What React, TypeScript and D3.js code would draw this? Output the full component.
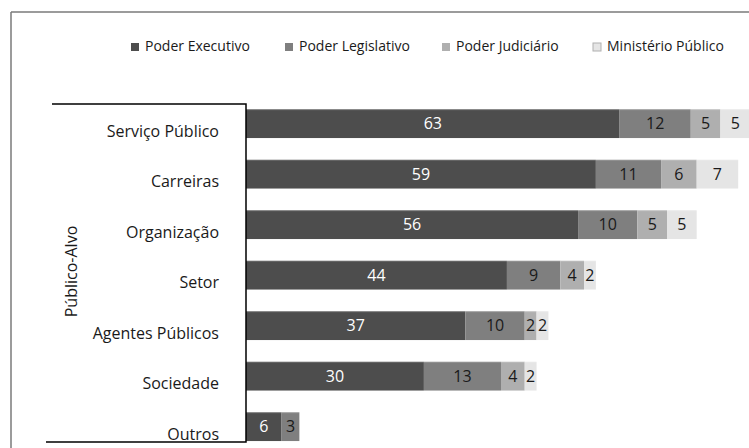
import React from 'react';
import * as d3 from 'd3';

const categories = ['Serviço Público', 'Carreiras', 'Organização', 'Setor', 'Agentes Públicos', 'Sociedade', 'Outros'];
const seriesNames = ['Poder Executivo', 'Poder Legislativo', 'Poder Judiciário', 'Ministério Público'];
const executivo = [63, 59, 56, 44, 37, 30, 6];
const legislativo = [12, 11, 10, 9, 10, 13, 3];
const judiciario = [5, 6, 5, 4, 2, 4, 0];
const ministerio = [5, 7, 5, 2, 2, 2, 0];
const axisTitle = 'Público-Alvo';

const W = 749;
const H = 448;
const FONT = "'Open Sans', 'Noto Sans', sans-serif";
const colors = ['#4d4d4d', '#7f7f7f', '#afafaf', '#e5e5e5'];
const labelColors = ['#ffffff', '#1a1a1a', '#1a1a1a', '#1a1a1a'];
const legendX = [131, 285, 442, 593];

export default function App() {
  const rows = categories.map((c, i) => ({
    cat: c,
    [seriesNames[0]]: executivo[i],
    [seriesNames[1]]: legislativo[i],
    [seriesNames[2]]: judiciario[i],
    [seriesNames[3]]: ministerio[i],
  }));
  const stacked = d3.stack<any>().keys(seriesNames)(rows);

  const x = d3.scaleLinear().domain([0, 90]).range([246, 246 + 90 * 5.93]);
  const y = d3
    .scaleBand<string>()
    .domain(categories)
    .range([98.4, 98.4 + categories.length * 50.5])
    .paddingInner(0.43)
    .paddingOuter(0.215);
  const bw = y.bandwidth();

  return (
    <svg
      width={W}
      height={H}
      viewBox={`0 0 ${W} ${H}`}
      style={{ position: 'absolute', left: 0, top: 0, background: '#fff' }}
      fontFamily={FONT}
    >
      <rect x={0} y={0} width={W} height={H} fill="#fff" />
      {/* outer frame */}
      <line x1={11} y1={12} x2={W} y2={12} stroke="#7a7a7a" strokeWidth={1.5} />
      <line x1={11} y1={12} x2={11} y2={H} stroke="#7a7a7a" strokeWidth={1.5} />

      {/* legend */}
      {seriesNames.map((s, i) => (
        <g key={s}>
          <rect
            x={legendX[i]}
            y={43}
            width={8}
            height={8}
            fill={colors[i]}
            stroke={i === 3 ? '#b0b0b0' : 'none'}
            strokeWidth={1}
          />
          <text x={legendX[i] + 14} y={51} fontSize={14} fill="#1a1a1a">
            {s}
          </text>
        </g>
      ))}

      {/* bars */}
      {stacked.map((layer, si) => (
        <g key={layer.key}>
          {layer.map((d, ci) => {
            const v = d[1] - d[0];
            if (v <= 0) return null;
            const x0 = x(d[0]);
            const x1 = x(d[1]);
            const yy = y(categories[ci]) as number;
            return (
              <g key={ci}>
                <rect x={x0} y={yy} width={x1 - x0} height={bw} fill={colors[si]} />
                <line
                  x1={x0}
                  x2={x1}
                  y1={yy + 0.5}
                  y2={yy + 0.5}
                  stroke="#ffffff"
                  strokeOpacity={0.18}
                  strokeWidth={1}
                />
                <text
                  x={(x0 + x1) / 2}
                  y={yy + bw / 2}
                  dy="0.36em"
                  textAnchor="middle"
                  fontSize={16}
                  fill={labelColors[si]}
                >
                  {v}
                </text>
              </g>
            );
          })}
        </g>
      ))}

      {/* category box */}
      <path
        d="M52,104 L246,104 L246,442 L46,442"
        fill="none"
        stroke="#000"
        strokeWidth={1.5}
      />

      {/* category labels */}
      {categories.map((c) => (
        <text
          key={c}
          x={219}
          y={(y(c) as number) + bw / 2 + 13}
          textAnchor="end"
          fontSize={16}
          fill="#1a1a1a"
        >
          {c}
        </text>
      ))}

      {/* axis title */}
      <text
        transform={`translate(76.5, 271.5) rotate(-90)`}
        textAnchor="middle"
        fontSize={16}
        fill="#1a1a1a"
      >
        {axisTitle}
      </text>
    </svg>
  );
}
